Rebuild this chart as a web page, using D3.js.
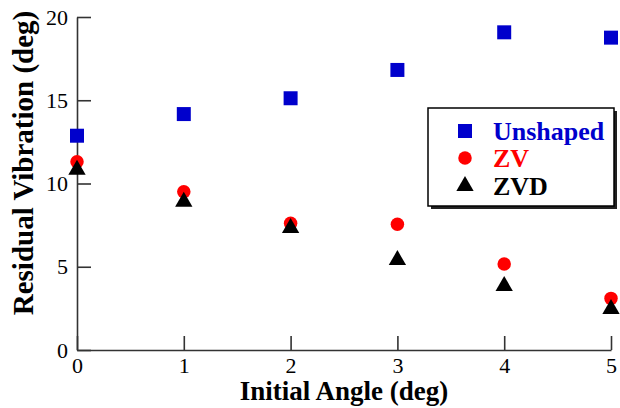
<!DOCTYPE html>
<html>
<head>
<meta charset="utf-8">
<script src="https://cdn.jsdelivr.net/npm/d3@7"></script>
<style>
  body { margin: 0; background: #fff; }
  svg { display: block; font-family: "Liberation Serif", "Times New Roman", serif; }
</style>
</head>
<body>
<div id="chart"></div>
<script>
// data
const angles = [0, 1, 2, 3, 4, 5];
const unshaped = [12.87, 14.17, 15.12, 16.82, 19.08, 18.76];
const zv = [11.31, 9.51, 7.61, 7.55, 5.17, 3.1];
const zvd = [10.83, 8.91, 7.33, 5.4, 3.84, 2.46];
const xTicks = [0, 1, 2, 3, 4, 5];
const yTicks = [0, 5, 10, 15, 20];

const seriesList = [
  { name: "Unshaped", values: unshaped, color: "#0000cc", symbol: d3.symbolSquare, size: 196 },
  { name: "ZV", values: zv, color: "#ff0000", symbol: d3.symbolCircle, size: 143 },
  { name: "ZVD", values: zvd, color: "#000000", symbol: d3.symbolTriangle, size: 130 }
];

let width = 620, height = 408;
let margin = { top: 17, right: 9, bottom: 58, left: 77 };
let innerW = width - margin.left - margin.right,
  innerH = height - margin.top - margin.bottom;

let svg = d3.select("#chart").append("svg")
  .attr("width", width)
  .attr("height", height);

let g = svg.append("g")
  .attr("transform", "translate(" + margin.left + "," + margin.top + ")");

let xScale = d3.scaleLinear().domain([0, 5]).range([0, innerW]);
let yScale = d3.scaleLinear().domain([0, 20]).range([innerH, 0]);

// axes, ticks point inward
let xAxis = g.append("g")
  .attr("transform", "translate(0," + innerH + ")")
  .call(d3.axisBottom(xScale).tickValues(xTicks).tickFormat(d3.format("d"))
    .tickSizeInner(-14).tickSizeOuter(0).tickPadding(7));

let yAxis = g.append("g")
  .call(d3.axisLeft(yScale).tickValues(yTicks).tickFormat(d3.format("d"))
    .tickSizeInner(-14).tickSizeOuter(0).tickPadding(9));

[xAxis, yAxis].forEach(function (ax) {
  ax.select(".domain").attr("stroke", "#333").attr("stroke-width", 1.6);
  ax.selectAll(".tick line").attr("stroke", "#333").attr("stroke-width", 1.6);
  ax.selectAll(".tick text")
    .attr("fill", "#000")
    .style("font-family", "'Liberation Serif', serif")
    .style("font-size", "22px");
});

// markers
seriesList.forEach(function (s) {
  g.append("g")
    .selectAll("path")
    .data(s.values)
    .enter()
    .append("path")
    .attr("transform", function (d, i) {
      return "translate(" + xScale(angles[i]) + "," + yScale(d) + ")";
    })
    .attr("d", d3.symbol().type(s.symbol).size(s.size))
    .attr("fill", s.color);
});

// axis titles
svg.append("text")
  .attr("x", 344)
  .attr("y", 400)
  .attr("text-anchor", "middle")
  .style("font-weight", "bold")
  .style("font-size", "27px")
  .text("Initial Angle (deg)");

svg.append("text")
  .attr("transform", "translate(33,163) rotate(-90)")
  .attr("text-anchor", "middle")
  .style("font-weight", "bold")
  .style("font-size", "29px")
  .text("Residual Vibration (deg)");

// legend box with shadow
let legend = svg.append("g").attr("transform", "translate(428,108)");
legend.append("rect")
  .attr("x", 3).attr("y", 3)
  .attr("width", 186).attr("height", 98)
  .attr("fill", "#222");
legend.append("rect")
  .attr("width", 186).attr("height", 98)
  .attr("fill", "#fff")
  .attr("stroke", "#000")
  .attr("stroke-width", 1.5);

let rowY = [23, 50, 78];
seriesList.forEach(function (s, i) {
  legend.append("path")
    .attr("transform", "translate(37," + rowY[i] + ")")
    .attr("d", d3.symbol().type(s.symbol).size(s.size))
    .attr("fill", s.color);
  legend.append("text")
    .attr("x", 65)
    .attr("y", rowY[i] + 9)
    .attr("fill", s.color)
    .style("font-weight", "bold")
    .style("font-size", "26px")
    .text(s.name);
});
</script>
</body>
</html>
